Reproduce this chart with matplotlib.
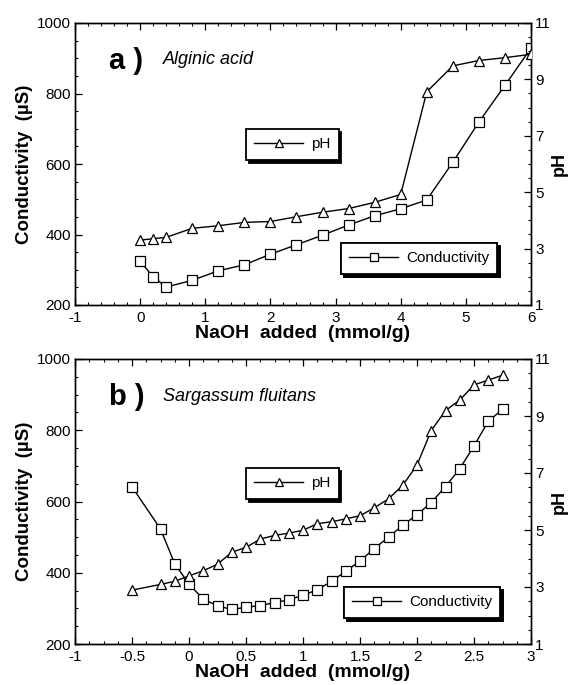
import matplotlib
matplotlib.use("Agg")
import matplotlib.pyplot as plt
from matplotlib.lines import Line2D
from matplotlib.ticker import MultipleLocator, FixedLocator

plt.rcParams['font.family'] = ['Liberation Sans', 'DejaVu Sans']

# Panel a: Alginic acid
a_naoh = [0, 0.2, 0.4, 0.8, 1.2, 1.6, 2.0, 2.4, 2.8, 3.2, 3.6, 4.0, 4.4, 4.8, 5.2, 5.6, 6.0]
a_ph = [3.30, 3.35, 3.40, 3.72, 3.81, 3.93, 3.96, 4.13, 4.29, 4.42, 4.64, 4.92,
        8.56, 9.48, 9.67, 9.77, 9.89]
a_cond = [324, 280, 251, 270, 297, 314, 344, 371, 398, 427, 453, 473,
          498, 605, 719, 823, 929]

# Panel b: Sargassum fluitans
b_naoh = [-0.5, -0.25, -0.125, 0, 0.125, 0.25, 0.375, 0.5, 0.625, 0.75, 0.875, 1.0,
          1.125, 1.25, 1.375, 1.5, 1.625, 1.75, 1.875, 2.0, 2.125, 2.25, 2.375, 2.5,
          2.625, 2.75]
b_ph = [2.89, 3.09, 3.20, 3.39, 3.57, 3.80, 4.22, 4.39, 4.68, 4.81, 4.89, 4.99,
        5.22, 5.29, 5.39, 5.50, 5.78, 6.09, 6.57, 7.28, 8.49, 9.19, 9.56, 10.09,
        10.26, 10.43]
b_cond = [641, 523, 425, 368, 326, 307, 297, 303, 308, 316, 324, 337,
          352, 376, 404, 433, 468, 500, 533, 563, 597, 642, 692, 756, 825, 859]

ph_ticks = [1, 3, 5, 7, 9, 11]

W, H = 571, 685
fig = plt.figure(figsize=(W / 100, H / 100), dpi=100)

panels = [
    dict(x=a_naoh, ph=a_ph, cond=a_cond, xlim=(-1, 6), xmaj=1, xmin=0.2,
         rect=(75, 23, 531, 305), letter='a', name='Alginic acid',
         leg_ph=(246, 129), leg_c=(341, 243)),
    dict(x=b_naoh, ph=b_ph, cond=b_cond, xlim=(-1, 3), xmaj=0.5, xmin=0.125,
         rect=(75, 359, 531, 644), letter='b', name='Sargassum fluitans',
         leg_ph=(246, 468), leg_c=(344, 587)),
]

tick_fs = 11
for p in panels:
    l, t, r, b = p['rect']
    ax = fig.add_axes([l / W, 1 - b / H, (r - l) / W, (b - t) / H])
    ax2 = ax.twinx()
    ax.plot(p['x'], p['cond'], color='black', lw=1.0, marker='s', ms=6.5,
            mfc='white', mec='black', mew=0.9, zorder=3)
    ax2.plot(p['x'], p['ph'], color='black', lw=1.0, marker='^', ms=6.5,
             mfc='white', mec='black', mew=0.9, zorder=3)
    ax.set_xlim(*p['xlim'])
    ax.set_ylim(200, 1000)
    ax2.set_ylim(1, 11)
    ax.xaxis.set_major_locator(MultipleLocator(p['xmaj']))
    ax.xaxis.set_minor_locator(MultipleLocator(p['xmin']))
    ax.yaxis.set_major_locator(MultipleLocator(200))
    ax.yaxis.set_minor_locator(MultipleLocator(50))
    ax2.yaxis.set_major_locator(FixedLocator(ph_ticks))
    ax2.yaxis.set_minor_locator(MultipleLocator(0.5))
    ax.tick_params(axis='x', which='both', direction='in', top=True, bottom=True)
    ax.tick_params(axis='y', which='both', direction='in', left=True, right=False)
    ax2.tick_params(axis='y', which='both', direction='in', right=True)
    for a_ in (ax, ax2):
        a_.tick_params(which='major', length=5, width=0.9, labelsize=tick_fs, pad=3)
        a_.tick_params(which='minor', length=2.5, width=0.8)
        for s in a_.spines.values():
            s.set_linewidth(1.0)
    ax.tick_params(axis='x', which='major', pad=4)
    ax.set_xticklabels([('%g' % v) for v in ax.get_xticks()])
    ax.set_xlabel('NaOH  added  (mmol/g)', fontsize=14, fontweight='bold', labelpad=0)
    ax.set_ylabel('Conductivity  (\u00b5S)', fontsize=13.5, fontweight='bold', labelpad=3)
    ax2.set_ylabel('pH', fontsize=13, fontweight='bold', rotation=90, labelpad=0)

    ax.text(0.075, 0.865, p['letter'] + ' )', transform=ax.transAxes,
            fontsize=21, fontweight='bold', va='center', ha='left')
    ax.text(0.193, 0.87, p['name'], transform=ax.transAxes,
            fontsize=13, style='italic', va='center', ha='left')

    h_ph = Line2D([], [], color='black', lw=1.0, marker='^', ms=6, mfc='white',
                  mec='black', mew=0.9)
    h_c = Line2D([], [], color='black', lw=1.0, marker='s', ms=6, mfc='white',
                 mec='black', mew=0.9)
    for h, lab, pos in ((h_ph, 'pH', p['leg_ph']), (h_c, 'Conductivity', p['leg_c'])):
        leg = ax2.legend([h], [lab], loc='upper left',
                         bbox_to_anchor=(pos[0] / W, 1 - pos[1] / H),
                         bbox_transform=fig.transFigure, fontsize=11,
                         frameon=True, fancybox=False, borderaxespad=0,
                         handlelength=3.2, handletextpad=0.5, borderpad=0.55,
                         shadow={'color': 'black', 'alpha': 1.0})
        leg.get_frame().set_edgecolor('black')
        leg.get_frame().set_linewidth(1.3)
        leg.set_zorder(10)
        ax2.add_artist(leg)

fig.savefig('out.png', dpi=100)
